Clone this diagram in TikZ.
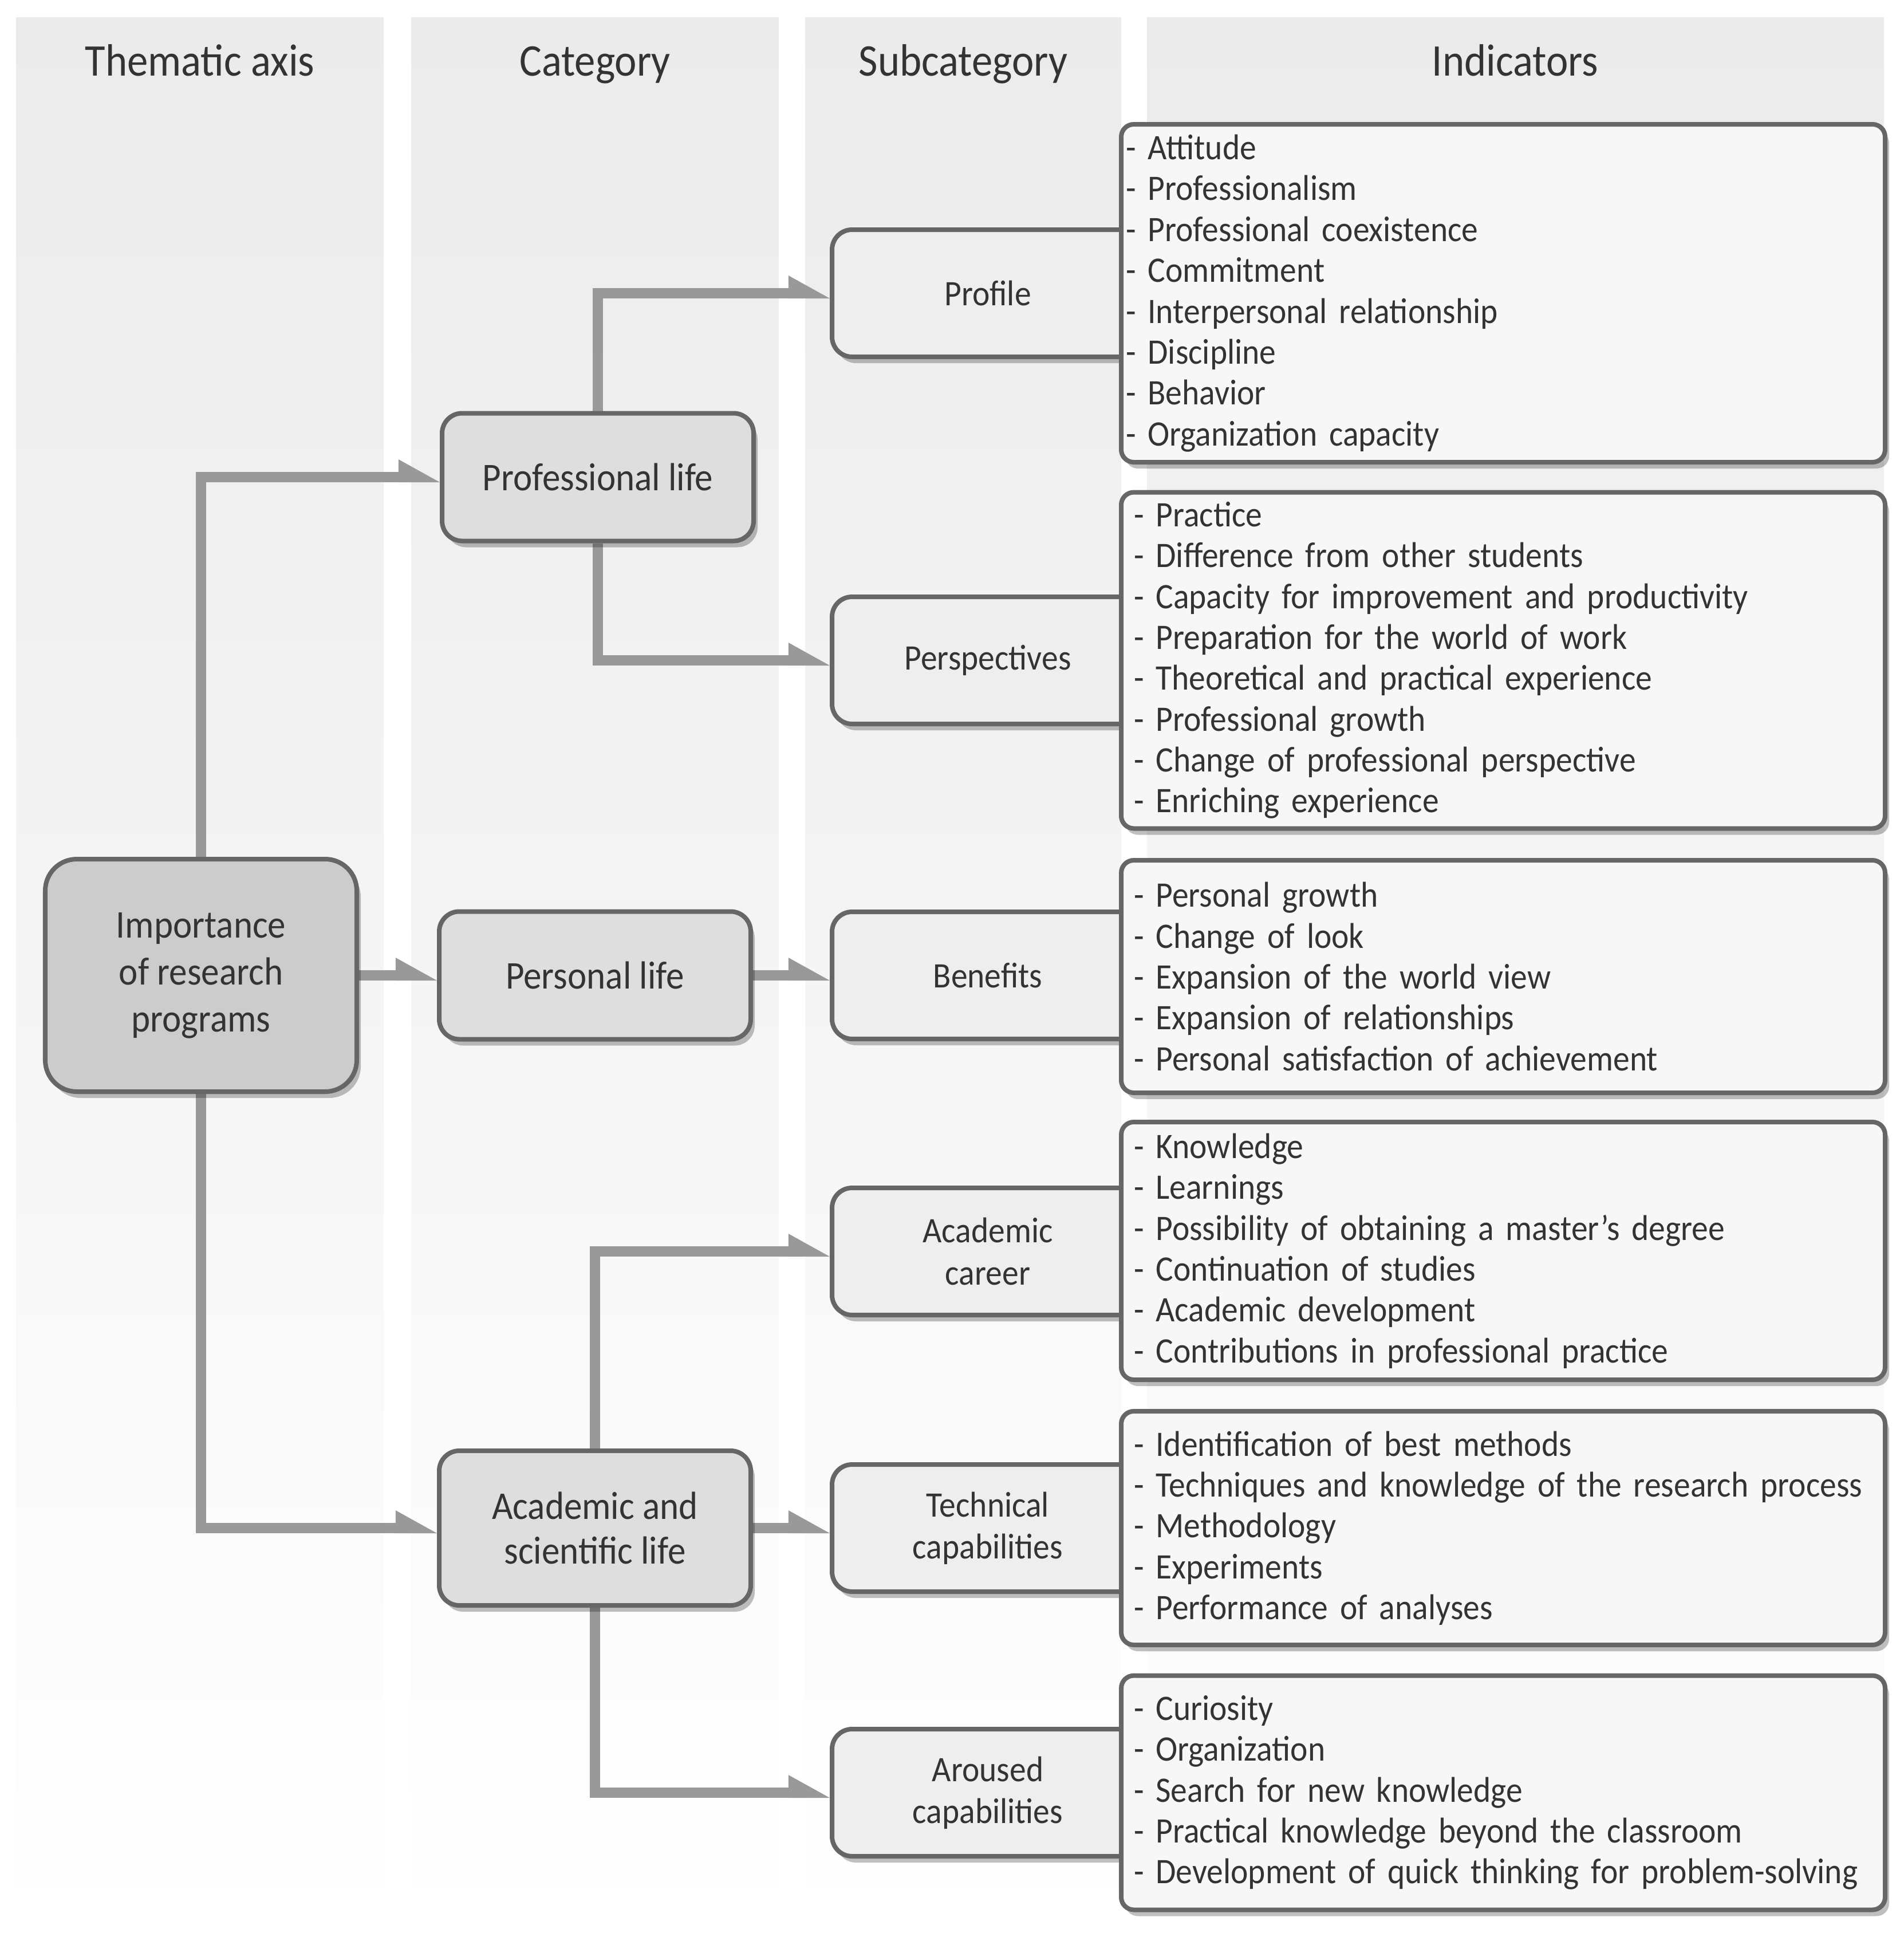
\documentclass[tikz,border=0pt]{standalone}
\usepackage{fontspec}
\setmainfont{Carlito}[FakeStretch=0.92]
\usetikzlibrary{shadows,backgrounds}

\definecolor{colbg}{HTML}{EBEBEB}
\definecolor{edgegray}{HTML}{666666}
\definecolor{linkgray}{HTML}{999999}
\definecolor{ink}{HTML}{333333}
\definecolor{mainfill}{HTML}{CCCCCC}
\definecolor{catfill}{HTML}{DEDEDE}
\definecolor{subfill}{HTML}{EEEEEE}
\definecolor{indfill}{HTML}{F7F7F7}

% arrow with a head on one side only
\pgfdeclarearrow{
  name = halftip,
  setup code = {
    \pgfarrowssettipend{0pt}
    \pgfarrowssetlineend{-20pt}
    \pgfarrowshullpoint{0pt}{-2.6pt}
    \pgfarrowshullpoint{-20.5pt}{8.8pt}
    \pgfarrowshullpoint{-20.5pt}{-2.6pt}
  },
  drawing code = {
    \pgfpathmoveto{\pgfqpoint{0pt}{-2.56pt}}
    \pgfpathlineto{\pgfqpoint{-20.5pt}{8.8pt}}
    \pgfpathlineto{\pgfqpoint{-20.5pt}{-2.56pt}}
    \pgfpathclose
    \pgfusepathqfill
  }
}

\tikzset{
  box/.style={draw=edgegray,line width=0.08cm,rounded corners=0.35cm,text=ink,align=center,
    drop shadow={shadow xshift=0.07cm,shadow yshift=-0.11cm,fill=black,opacity=0.25}},
  mainbox/.style={box,fill=mainfill,rounded corners=0.55cm,minimum width=5.44cm,minimum height=4.06cm,
    font=\fontsize{19.5}{23.3}\selectfont},
  catbox/.style={box,fill=catfill,minimum width=5.44cm,minimum height=2.23cm,
    font=\fontsize{19.5}{22}\selectfont},
  subbox/.style={box,fill=subfill,minimum width=5.44cm,minimum height=2.22cm,
    font=\fontsize{17.8}{20.8}\selectfont},
  indbox/.style={box,fill=indfill,rounded corners=0.22cm,align=left,text width=12.9cm,
    inner xsep=0.22cm,inner ysep=0.05cm,font=\fontsize{17.8}{20.3}\selectfont},
  colhead/.style={text=ink,text height=0.75em,text depth=0.22em,font=\fontsize{22.5}{27}\selectfont},
  flow/.style={line width=0.18cm,color=linkgray,arrows={-halftip}},
}

\begin{document}
\begin{tikzpicture}
  \useasboundingbox (0,0) rectangle (33.25,-33.82);

  % columns
  \begin{scope}[on background layer]
    \shade[top color=colbg,bottom color=white] (0.28,-0.30) rectangle (6.70,-33.82);
    \shade[top color=colbg,bottom color=white] (7.18,-0.30) rectangle (13.60,-33.82);
    \shade[top color=colbg,bottom color=white] (14.06,-0.30) rectangle (19.58,-33.82);
    \shade[top color=colbg,bottom color=white] (20.03,-0.30) rectangle (32.90,-33.82);
  \end{scope}

  \node[colhead] (h1) at (3.49,-1.23) {Thematic axis};
  \node[colhead] (h2) at (10.39,-1.23) {Category};
  \node[colhead] (h3) at (16.82,-1.23) {Subcategory};
  \node[colhead] (h4) at (26.46,-1.23) {Indicators};

  % thematic axis and categories
  \node[mainbox] (imp) at (3.51,-17.03) {Importance\\of research\\programs};
  \node[catbox] (prof) at (10.44,-8.33) {Professional life};
  \node[catbox] (pers) at (10.39,-17.03) {Personal life};
  \node[catbox,minimum height=2.70cm] (acad) at (10.39,-26.68) {Academic and\\scientific life};

  % subcategories
  \node[subbox] (profile) at (17.25,-5.12) {Profile};
  \node[subbox] (persp) at (17.25,-11.53) {Perspectives};
  \node[subbox] (benef) at (17.25,-17.03) {Benefits};
  \node[subbox] (career) at (17.25,-21.85) {Academic\\career};
  \node[subbox] (tech) at (17.25,-26.68) {Technical\\capabilities};
  \node[subbox] (aroused) at (17.25,-31.30) {Aroused\\capabilities};

  % indicators
  \node[indbox,inner xsep=0.08cm,text width=13.18cm,minimum height=5.90cm] (ind1) at (26.25,-5.12)
    {- Attitude\\- Professionalism\\- Professional coexistence\\- Commitment\\- Interpersonal relationship\\- Discipline\\- Behavior\\- Organization capacity};
  \node[indbox,minimum height=5.87cm] (ind2) at (26.25,-11.53)
    {- Practice\\- Difference from other students\\- Capacity for improvement and productivity\\- Preparation for the world of work\\- Theoretical and practical experience\\- Professional growth\\- Change of professional perspective\\- Enriching experience};
  \node[indbox,minimum height=4.06cm] (ind3) at (26.25,-17.05)
    {- Personal growth\\- Change of look\\- Expansion of the world view\\- Expansion of relationships\\- Personal satisfaction of achievement};
  \node[indbox,minimum height=4.50cm] (ind4) at (26.25,-21.84)
    {- Knowledge\\- Learnings\\- Possibility of obtaining a master’s degree\\- Continuation of studies\\- Academic development\\- Contributions in professional practice};
  \node[indbox,minimum height=4.08cm] (ind5) at (26.25,-26.68)
    {- Identification of best methods\\- Techniques and knowledge of the research process\\- Methodology\\- Experiments\\- Performance of analyses};
  \node[indbox,minimum height=4.09cm] (ind6) at (26.25,-31.30)
    {- Curiosity\\- Organization\\- Search for new knowledge\\- Practical knowledge beyond the classroom\\- Development of quick thinking for problem-solving};

  % connectors
  \begin{scope}[on background layer]
    \draw[flow] (imp.north) |- (prof.west);
    \draw[flow] (imp.east) -- (pers.west);
    \draw[flow] (imp.south) |- (acad.west);
    \draw[flow] (prof.north) |- (profile.west);
    \draw[flow] (prof.south) |- (persp.west);
    \draw[flow] (pers.east) -- (benef.west);
    \draw[flow] (acad.north) |- (career.west);
    \draw[flow] (acad.east) -- (tech.west);
    \draw[flow] (acad.south) |- (aroused.west);
  \end{scope}
\end{tikzpicture}
\end{document}
